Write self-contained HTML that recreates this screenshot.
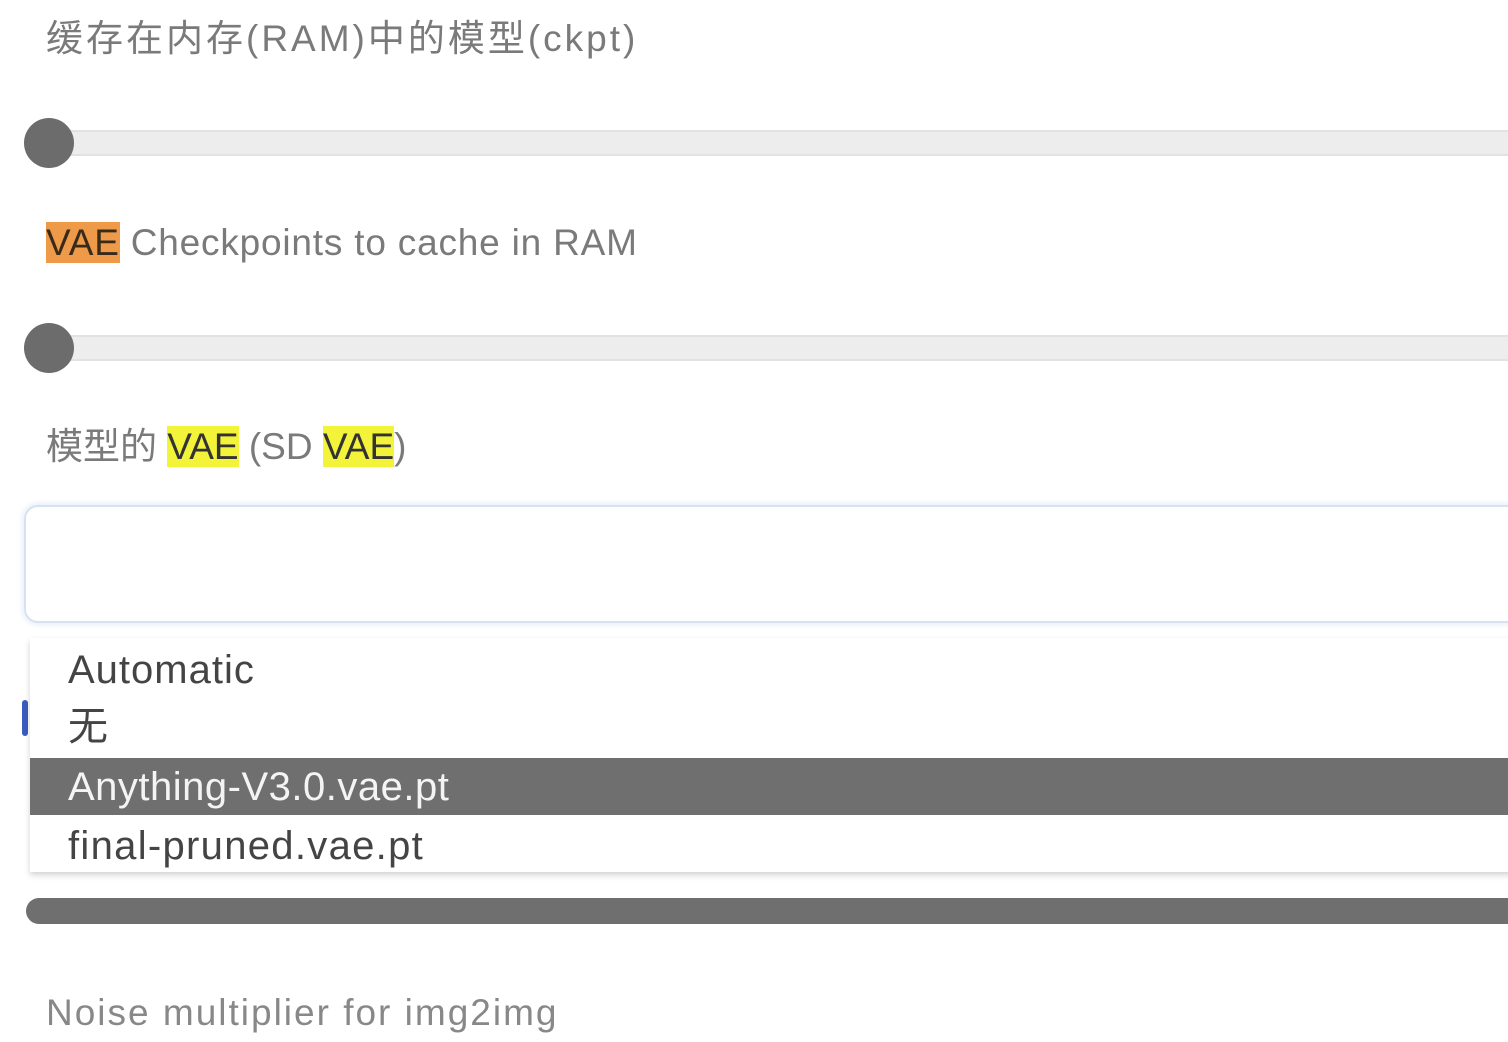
<!DOCTYPE html>
<html><head><meta charset="utf-8"><style>
body{margin:0;width:1508px;height:1042px;overflow:hidden;background:#fff;position:relative;font-family:"Liberation Sans","Noto Sans CJK SC",sans-serif;}
.t{position:absolute;left:46px;font-size:37px;color:#7a7a7a;white-space:nowrap;line-height:1;}
.track{position:absolute;left:48px;width:1480px;height:22px;background:#ededed;border:2px solid #e2e2e2;border-radius:12px;}
.thumb{position:absolute;left:24px;width:50px;height:50px;border-radius:50%;background:#6c6c6c;}
.hl{background:#f3f33a;color:#333;}
.or{background:#ee9a48;color:#3a2a1a;}
.item{position:absolute;left:68px;font-size:40px;color:#444;white-space:nowrap;line-height:1;}
</style></head><body>
<div class="t" style="top:20px;letter-spacing:3px">缓存在内存(RAM)中的模型(ckpt)</div>
<div class="track" style="top:130px"></div>
<div class="thumb" style="top:118px"></div>
<div class="t" style="top:224px;letter-spacing:0.8px"><span class="or">VAE</span> Checkpoints to cache in RAM</div>
<div class="track" style="top:335px"></div>
<div class="thumb" style="top:323px"></div>
<div class="t" style="top:428px">模型的 <span class="hl">VAE</span> (SD <span class="hl">VAE</span>)</div>
<div style="position:absolute;left:24px;top:505px;width:1520px;height:114px;border:2px solid #d6e2f2;border-radius:14px;box-shadow:0 0 4px 3px #eef3fa;"></div>
<div style="position:absolute;left:22px;top:700px;width:6px;height:36px;background:#3b5bbf;border-radius:3px;"></div>
<div style="position:absolute;left:30px;top:638px;width:1500px;height:234px;background:#fff;box-shadow:0 3px 6px rgba(0,0,0,0.18);"></div>
<div class="item" style="top:650px;letter-spacing:1px">Automatic</div>
<div class="item" style="top:707px">无</div>
<div style="position:absolute;left:30px;top:758px;width:1480px;height:57px;background:#6f6f6f;"></div>
<div class="item" style="top:767px;color:#f4f4f4;letter-spacing:0.5px">Anything-V3.0.vae.pt</div>
<div class="item" style="top:826px;letter-spacing:1.3px">final-pruned.vae.pt</div>
<div style="position:absolute;left:26px;top:898px;width:1500px;height:26px;background:#6f6f6f;border-radius:13px;"></div>
<div class="t" style="top:994px;color:#888;letter-spacing:2px">Noise multiplier for img2img</div>
</body></html>
